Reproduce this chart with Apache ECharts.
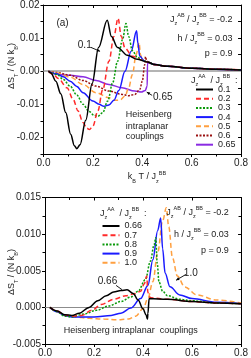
<!DOCTYPE html>
<html><head><meta charset="utf-8">
<script src="https://cdn.jsdelivr.net/npm/echarts@6/dist/echarts.min.js"></script>
<style>html,body{margin:0;padding:0;background:#fff}#c{width:251px;height:358px}</style>
</head><body><div id="c"></div>
<script>
// ---------- Data (top panel, J_z^AA/J_z^BB) ----------
const xTicks = [0.0, 0.2, 0.4, 0.6, 0.8];
const topYTicks = [-0.02, -0.01, 0.00, 0.01, 0.02];
const botYTicks = [-0.005, 0.000, 0.005, 0.010, 0.015];

const topNames = ['0.1', '0.2', '0.3', '0.4', '0.5', '0.6', '0.65'];
const tail = [[0.45,0.0020],[0.5,0.0015],[0.6,0.0009],[0.7,0.0006],[0.8,0.0004]];
const t01 = [[0.02,0],[0.03,-0.0005],[0.05,-0.003],[0.07,-0.0068],[0.09,-0.0125],[0.11,-0.019],[0.125,-0.0225],[0.135,-0.0234],[0.148,-0.0222],[0.171,-0.0148],[0.197,-0.0037],[0.223,0.0072],[0.258,0.0154],[0.275,0.0105],[0.30,0.0072],[0.34,0.0048],[0.38,0.0036],[0.42,0.0028]];
const t02 = [[0.02,0],[0.04,-0.001],[0.06,-0.0022],[0.095,-0.005],[0.12,-0.0085],[0.14,-0.012],[0.16,-0.0155],[0.175,-0.0172],[0.186,-0.0176],[0.20,-0.0166],[0.22,-0.012],[0.24,-0.0055],[0.265,0.003],[0.285,0.0105],[0.302,0.016],[0.315,0.0105],[0.33,0.007],[0.36,0.0045],[0.40,0.0033],[0.42,0.0028]];
const t03 = [[0.02,0],[0.055,-0.001],[0.08,-0.0025],[0.108,-0.0045],[0.135,-0.0072],[0.16,-0.010],[0.185,-0.0122],[0.205,-0.0133],[0.22,-0.0136],[0.24,-0.0125],[0.26,-0.009],[0.28,-0.0035],[0.30,0.003],[0.32,0.0095],[0.334,0.0144],[0.345,0.0105],[0.36,0.0062],[0.38,0.0042],[0.41,0.003],[0.42,0.0028]];
const t04 = [[0.02,0],[0.055,-0.0008],[0.08,-0.0017],[0.108,-0.003],[0.135,-0.0046],[0.16,-0.0065],[0.20,-0.009],[0.225,-0.010],[0.245,-0.0106],[0.265,-0.0102],[0.285,-0.0088],[0.305,-0.0058],[0.33,0],[0.355,0.006],[0.377,0.0122],[0.382,0.0085],[0.39,0.0045],[0.41,0.003],[0.42,0.0028]];
const t05 = [[0.02,0],[0.055,-0.0005],[0.108,-0.0018],[0.16,-0.004],[0.213,-0.0065],[0.265,-0.008],[0.29,-0.0088],[0.31,-0.0087],[0.33,-0.0075],[0.345,-0.005],[0.36,-0.001],[0.375,0.005],[0.387,0.0087],[0.393,0.005],[0.40,0.0033],[0.42,0.0028]];
const t06 = [[0.02,0],[0.055,-0.0004],[0.108,-0.0012],[0.16,-0.0028],[0.213,-0.0045],[0.265,-0.006],[0.318,-0.007],[0.345,-0.0074],[0.37,-0.007],[0.39,-0.0055],[0.40,-0.003],[0.41,0.002],[0.413,0.0044],[0.418,0.003],[0.43,0.0025]];
const t065 = [[0.02,0],[0.042,-0.0008],[0.068,-0.0011],[0.108,-0.0012],[0.16,-0.0017],[0.213,-0.0028],[0.265,-0.004],[0.318,-0.005],[0.37,-0.006],[0.396,-0.0063],[0.412,-0.0058],[0.42,-0.0045],[0.421,0.0025],[0.43,0.0024]];
const topData = [t01, t02, t03, t04, t05, t06, t065];

// ---------- Data (bottom panel) ----------
const botNames = ['0.66', '0.7', '0.8', '0.9', '1.0'];
const b066 = [[0.02,0],[0.05,-0.0005],[0.08,-0.001],[0.11,-0.0011],[0.14,-0.0008],[0.18,0],[0.215,0.0009],[0.25,0.0016],[0.28,0.0021],[0.31,0.0023],[0.335,0.0024],[0.36,0.0019],[0.38,0.001],[0.40,-0.0002],[0.412,-0.001],[0.418,-0.0016],[0.42,-0.0008],[0.425,0.0012],[0.5,0.0011],[0.6,0.0008],[0.7,0.0006],[0.8,0.0005]];
const b07 = [[0.02,0],[0.05,-0.0005],[0.08,-0.001],[0.11,-0.0012],[0.15,-0.0011],[0.19,-0.0004],[0.23,0.0004],[0.28,0.0011],[0.33,0.0016],[0.37,0.0019],[0.39,0.0022],[0.405,0.0032],[0.415,0.0043],[0.42,0.002],[0.43,0.0013],[0.5,0.0011],[0.6,0.0008],[0.7,0.0006],[0.8,0.0005]];
const b08 = [[0.02,0],[0.05,-0.0006],[0.08,-0.0012],[0.11,-0.0013],[0.16,-0.0009],[0.21,-0.0004],[0.26,0.0002],[0.31,0.0008],[0.35,0.0014],[0.38,0.0022],[0.41,0.0038],[0.43,0.0063],[0.445,0.0085],[0.452,0.0095],[0.458,0.006],[0.465,0.0035],[0.48,0.0022],[0.5,0.0016],[0.55,0.0011],[0.6,0.0009],[0.7,0.0006],[0.8,0.0005]];
const b09 = [[0.02,0],[0.05,-0.0006],[0.08,-0.0011],[0.11,-0.0013],[0.20,-0.0013],[0.27,-0.0011],[0.31,-0.0008],[0.35,-0.0001],[0.39,0.0012],[0.42,0.003],[0.44,0.0065],[0.46,0.0105],[0.472,0.0122],[0.48,0.008],[0.49,0.0047],[0.51,0.0028],[0.55,0.0017],[0.6,0.0012],[0.7,0.0007],[0.8,0.0005]];
const b10 = [[0.02,0],[0.05,-0.0006],[0.08,-0.0011],[0.12,-0.0013],[0.18,-0.0015],[0.24,-0.0016],[0.29,-0.0017],[0.34,-0.0016],[0.37,-0.0012],[0.40,-0.0002],[0.42,0.0012],[0.44,0.0035],[0.46,0.0075],[0.48,0.0118],[0.495,0.0136],[0.505,0.011],[0.52,0.0068],[0.54,0.0043],[0.57,0.0028],[0.62,0.0017],[0.7,0.001],[0.8,0.0006]];
const botData = [b066, b07, b08, b09, b10];

// ---------- Styles ----------
const topStyles = [
  {color:'#000000', type:'solid'},
  {color:'#ff2a2a', type:[5,3]},
  {color:'#0a9a0a', type:[2,1.5]},
  {color:'#1a1aff', type:'solid'},
  {color:'#ffa040', type:[5,3]},
  {color:'#9a1010', type:[2,1.5]},
  {color:'#8a2be2', type:'solid'}
];
const botStyles = topStyles.slice(0,5);
const FONT = 'Liberation Sans, Arial, sans-serif';

const chart = echarts.init(document.getElementById('c'), null, {renderer:'canvas'});

function fmt(v, d){ const r = Math.round(v*10000)/10000; return (r===0?0:r).toFixed(d); }
function xAxisDef(grid, show){
  return {type:'value', gridIndex:grid, min:0, max:0.8, interval:0.2, position: show?'bottom':'top',
    axisLine:{show:true, onZero:false, lineStyle:{color:'#000', width:1}},
    axisTick:{show:true, inside: !show, length:3, lineStyle:{color:'#000'}},
    minorTick:{show:true, splitNumber:2, length:2.5, lineStyle:{color:'#000'}},
    axisLabel:{show:show, margin:4, fontSize:10, color:'#222', fontFamily:FONT, formatter:v=>fmt(v,1)},
    splitLine:{show:false}};
}
function yAxisDef(grid, show, min, max, interval, labels, dec){
  return {type:'value', gridIndex:grid, min:min, max:max, interval:interval, position: show?'left':'right',
    axisLine:{show:true, onZero:false, lineStyle:{color:'#000', width:1}},
    axisTick:{show:true, inside: !show, length:3, lineStyle:{color:'#000'}},
    minorTick:{show:false},
    axisLabel:{show:show, margin:4, fontSize:10, color:'#222', fontFamily:FONT,
      formatter:v=>{ const r=Math.round(v*10000)/10000; return labels.some(l=>Math.abs(l-r)<1e-9)?fmt(r,dec):''; }},
    splitLine:{show:false}};
}

const series = [];
topData.forEach((d,i)=>{
  const s = {name:topNames[i], type:'line', xAxisIndex:0, yAxisIndex:0, data:d, showSymbol:false, symbol:'none',
    smooth:0.35, smoothMonotone:'x', animation:false, z:3+(7-i),
    lineStyle:{color:topStyles[i].color, type:topStyles[i].type, width:1.5}, itemStyle:{color:topStyles[i].color}};
  if(i===0){
    s.data = d.concat(tail);
    s.markLine = {silent:true, symbol:'none', animation:false, label:{show:false},
      lineStyle:{color:'#b4b4b4', type:'solid', width:2}, data:[{yAxis:0}], z:1};
  } else { s.data = d.concat(tail); }
  series.push(s);
});
botData.forEach((d,i)=>{
  const s = {name:botNames[i], type:'line', xAxisIndex:2, yAxisIndex:2, data:d, showSymbol:false, symbol:'none',
    smooth:0.35, smoothMonotone:'x', animation:false, z:3+(5-i),
    lineStyle:{color:botStyles[i].color, type:botStyles[i].type, width:1.5}, itemStyle:{color:botStyles[i].color}};
  if(i===0){
    s.markLine = {silent:true, symbol:'none', animation:false, label:{show:false},
      lineStyle:{color:'#8c8c8c', type:'solid', width:1}, data:[{yAxis:0}], z:1};
  }
  series.push(s);
});

const legendCommon = {orient:'vertical', selectedMode:false, itemWidth:17, itemHeight:9, itemGap:0.2,
  textStyle:{fontSize:9, fontFamily:FONT, color:'#222', lineHeight:9, padding:[0,0,0,0]}, padding:0, itemStyle:{opacity:0}};

chart.setOption({
  animation:false,
  grid:[
    {left:43.5, right:4.5, top:4, height:150},
    {left:45, right:4.5, top:197.5, height:148.5}
  ],
  xAxis:[xAxisDef(0,true), xAxisDef(0,false), xAxisDef(1,true), xAxisDef(1,false)],
  yAxis:[
    yAxisDef(0,true,-0.025,0.02,0.005,topYTicks,2), yAxisDef(0,false,-0.025,0.02,0.005,topYTicks,2),
    yAxisDef(1,true,-0.005,0.015,0.005,botYTicks,3), yAxisDef(1,false,-0.005,0.015,0.005,botYTicks,3)
  ],
  legend:[
    Object.assign({}, legendCommon, {left:195, top:85, data:topNames}),
    Object.assign({}, legendCommon, {left:101.5, top:221.5, data:botNames})
  ],
  series:series
});
// second y axes for mirrored bottom-panel minor ticks
chart.setOption({yAxis:[{},{},{minorTick:{show:true, splitNumber:2, length:2.5, lineStyle:{color:'#000'}}},{minorTick:{show:true, splitNumber:2, length:2.5, lineStyle:{color:'#000'}}}]});

// ---------- Annotations ----------
const rich = {
  n:{fontSize:9, fontFamily:FONT, color:'#222', lineHeight:14},
  b:{fontSize:10, fontFamily:FONT, color:'#222', lineHeight:14},
  sub:{fontSize:5.5, fontFamily:FONT, color:'#222', lineHeight:14, verticalAlign:'bottom'},
  sup:{fontSize:5.5, fontFamily:FONT, color:'#222', lineHeight:14, verticalAlign:'top'}
};
function txt(x, y, text, align, extra){
  return Object.assign({type:'text', x:x, y:y, silent:true, z:20,
    style:{text:text, rich:rich, align:align||'left', verticalAlign:'middle', fill:'#222', font:'9px '+FONT}}, extra||{});
}
function plain(x, y, text, size, align){
  return {type:'text', x:x, y:y, silent:true, z:20,
    style:{text:text, align:align||'center', verticalAlign:'middle', fill:'#222', font:size+'px '+FONT}};
}
function P(g, x, y){ return chart.convertToPixel({gridIndex:g}, [x,y]); }
function arrow(p0, p1){
  const dx=p1[0]-p0[0], dy=p1[1]-p0[1], L=Math.hypot(dx,dy), ux=dx/L, uy=dy/L;
  const h=3.2, w=1.5;
  return [
    {type:'line', silent:true, z:20, shape:{x1:p0[0],y1:p0[1],x2:p1[0],y2:p1[1]}, style:{stroke:'#000', lineWidth:0.9}},
    {type:'polygon', silent:true, z:20, shape:{points:[[p1[0],p1[1]],[p1[0]-ux*h-uy*w,p1[1]-uy*h+ux*w],[p1[0]-ux*h+uy*w,p1[1]-uy*h-ux*w]]}, style:{fill:'#000'}}
  ];
}
const ratioAB = '{n|J}{sub|z}{sup|AB}{n| / J}{sub|z}{sup|BB}{n| = -0.2}';
const hText = '{n|h / J}{sub|z}{sup|BB}{n| = 0.03}';
const legTitle = '{n|J}{sub|z}{sup|AA}{n|  / J}{sub|z}{sup|BB}{n|  :}';

const g = [];
// top panel texts
let p;
p = P(0, 0.077, 0.0145); g.push(plain(p[0], p[1], '(a)', 10, 'center'));
p = P(0, 0.765, 0.0156); g.push(txt(p[0], p[1], ratioAB, 'right'));
p = P(0, 0.765, 0.0099); g.push(txt(p[0], p[1], hText, 'right'));
p = P(0, 0.765, 0.0052); g.push(plain(p[0], p[1], 'p = 0.9', 9, 'right'));
p = P(0, 0.597, -0.0029); g.push(txt(p[0], p[1], legTitle, 'left'));
p = P(0, 0.333, -0.0131); g.push(plain(p[0], p[1], 'Heisenberg', 9, 'left'));
p = P(0, 0.333, -0.0166); g.push(plain(p[0], p[1], 'intraplanar', 9, 'left'));
p = P(0, 0.333, -0.0197); g.push(plain(p[0], p[1], 'couplings', 9, 'left'));
p = P(0, 0.167, 0.0077); g.push(plain(p[0], p[1], '0.1', 10, 'center'));
arrow(P(0,0.192,0.0072), P(0,0.229,0.0060)).forEach(e=>g.push(e));
p = P(0, 0.483, -0.0078); g.push(plain(p[0], p[1], '0.65', 10, 'center'));
arrow(P(0,0.44,-0.0073), P(0,0.418,-0.0063)).forEach(e=>g.push(e));
// bottom panel texts
p = P(1, 0.75, 0.0130); g.push(txt(p[0], p[1], ratioAB, 'right'));
p = P(1, 0.75, 0.0100); g.push(txt(p[0], p[1], hText, 'right'));
p = P(1, 0.75, 0.0077); g.push(plain(p[0], p[1], 'p = 0.9', 9, 'right'));
p = P(1, 0.224, 0.0128); g.push(txt(p[0], p[1], legTitle, 'left'));
p = P(1, 0.35, -0.0032); g.push(plain(p[0], p[1], 'Heisenberg intraplanar  couplings', 9, 'center'));
p = P(1, 0.255, 0.0035); g.push(plain(p[0], p[1], '0.66', 10, 'center'));
{ const a=P(1,0.29,0.0030), b=P(1,0.315,0.0024); g.push({type:'line', silent:true, z:20, shape:{x1:a[0],y1:a[1],x2:b[0],y2:b[1]}, style:{stroke:'#000', lineWidth:0.9}}); }
p = P(1, 0.595, 0.0047); g.push(plain(p[0], p[1], '1.0', 10, 'center'));
arrow(P(1,0.575,0.0045), P(1,0.535,0.0037)).forEach(e=>g.push(e));
// axis titles
const ytitle = '{n|ΔS}{sub|T}{n| / (N k}{sub|B}{n|)}';
g.push(txt(12, 66, ytitle, 'center', {rotation:Math.PI/2}));
g.push(txt(12, 272, ytitle, 'center', {rotation:Math.PI/2}));
g.push(txt(147, 177, '{n|k}{sub|B}{n| T / J}{sub|z}{sup|BB}', 'center'));

chart.setOption({graphic:{elements:g}});
</script></body></html>
